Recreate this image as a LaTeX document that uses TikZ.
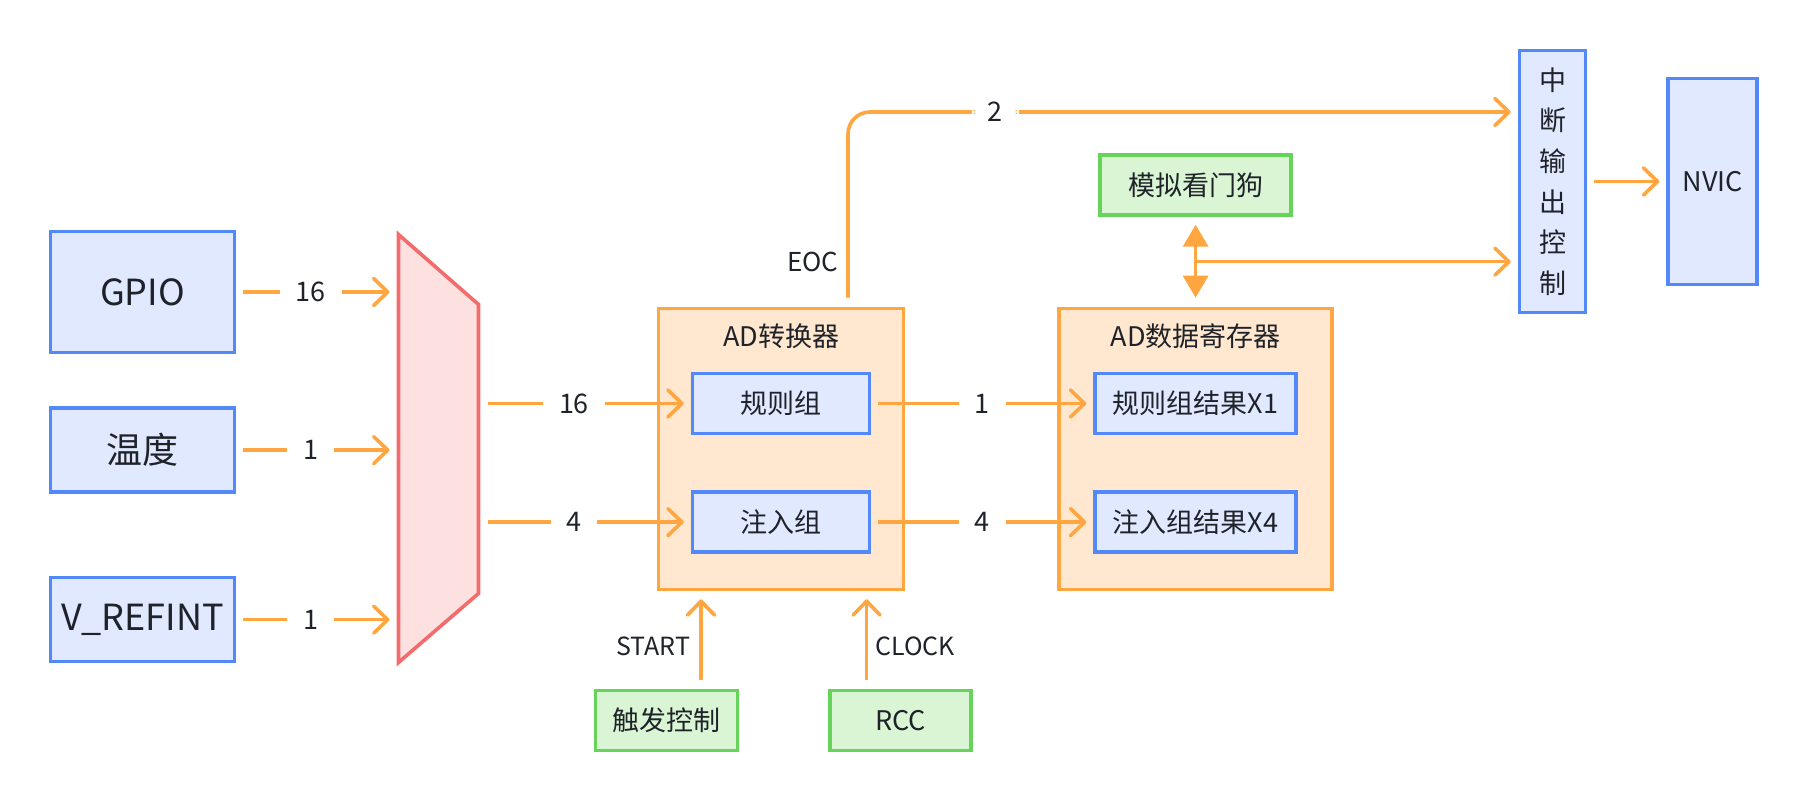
\documentclass[tikz,border=0pt]{standalone}
\usepackage{fontspec}
\setmainfont{Noto Sans CJK SC}
\usetikzlibrary{arrows.meta,positioning,calc}

\definecolor{blueline}{HTML}{5288F7}
\definecolor{bluefill}{HTML}{E0E9FF}
\definecolor{orgline}{HTML}{FFA640}
\definecolor{orgfill}{HTML}{FFE8CF}
\definecolor{grnline}{HTML}{66D35B}
\definecolor{grnfill}{HTML}{D9F5D4}
\definecolor{redline}{HTML}{F36C6C}
\definecolor{redfill}{HTML}{FDE1E1}
\definecolor{txt}{HTML}{1F2329}

\begin{document}
\begin{tikzpicture}[
  x=1pt,y=1pt,
  line width=3.6pt,
  >={Straight Barb[length=14pt,width=27pt,round]},
  every node/.style={text=txt},
  srcbox/.style={draw=blueline,fill=bluefill,minimum width=184pt,minimum height=84pt,font=\fontsize{36}{43}\selectfont},
  regbox/.style={draw=blueline,fill=bluefill,minimum height=60pt,font=\fontsize{27}{32}\selectfont},
  unitbox/.style={draw=orgline,fill=orgfill,minimum height=281pt},
  ctrlbox/.style={draw=grnline,fill=grnfill,minimum height=60pt,font=\fontsize{27}{32}\selectfont},
  muxbox/.style={inner sep=0pt,outer sep=0pt,minimum width=80pt,minimum height=428pt},
  title/.style={font=\fontsize{27}{32}\selectfont},
  num/.style={fill=white,inner xsep=16pt,inner ysep=2pt,font=\fontsize{27}{32}\selectfont},
  sig/.style={inner sep=0pt,font=\fontsize{25}{30}\selectfont},
  flow/.style={->,draw=orgline,shorten <=7pt,shorten >=7pt},
  dflow/.style={{Triangle[length=22pt,width=25pt]}-{Triangle[length=22pt,width=25pt]},draw=orgline,shorten <=8pt,shorten >=9pt}
]
\path[use as bounding box,fill=white] (0,0) rectangle (1808,802);

% ===== Inputs =====
\node[srcbox,minimum height=121pt] (gpio) at (142.5,510) {GPIO};
\node[srcbox,below=52pt of gpio] (wendu) {温度};
\node[srcbox,below=82pt of wendu] (vref) {V\_REFINT};

% ===== Multiplexer =====
\node[muxbox] (mux) at (438.5,353.5) {};
\draw[draw=redline,fill=redfill] (mux.north west) -- ([yshift=-70pt]mux.north east)
  -- ([yshift=69pt]mux.south east) -- (mux.south west) -- cycle;

% ===== AD Converter =====
\node[unitbox,minimum width=245pt] (adc) at (781,353) {};
\node[title] (adct) at ([yshift=-30pt]adc.north) {AD转换器};
\node[regbox,minimum width=177pt] (regular) at (781,398.5) {规则组};
\node[regbox,minimum width=177pt,below=55pt of regular] (inject) {注入组};

% ===== Data Register =====
\node[unitbox,minimum width=273pt,right=152pt of adc] (dreg) {};
\node[title] (dregt) at ([yshift=-30pt]dreg.north) {AD数据寄存器};
\node[regbox,minimum width=201pt] (regres) at (dreg |- regular) {规则组结果X1};
\node[regbox,minimum width=201pt] (injres) at (dreg |- inject) {注入组结果X4};

% ===== Control =====
\node[ctrlbox,minimum width=191pt,above=90pt of dreg] (wdog) {模拟看门狗};
\node[ctrlbox,minimum width=142pt] (trig) at (666.5,81.5) {触发控制};
\node[ctrlbox,minimum width=141pt,right=89pt of trig] (rcc) {RCC};

% ===== Interrupt =====
\node[regbox,minimum width=66pt,minimum height=262pt,align=center,font=\fontsize{27}{40.7}\selectfont] (intc) at (1552.5,620.5) {中\\断\\输\\出\\控\\制};
\node[regbox,minimum width=89pt,minimum height=206pt,right=79pt of intc] (nvic) {NVIC};

% ===== Channels =====
\draw[flow,shorten >=9pt] (gpio) -- node[num,pos=0.46]{16} (gpio -| mux.west);
\draw[flow,shorten >=9pt] (wendu) -- node[num,pos=0.46]{1} (wendu -| mux.west);
\draw[flow,shorten >=9pt] (vref) -- node[num,pos=0.46]{1} (vref -| mux.west);
\draw[flow,shorten <=9pt] (regular -| mux.east) -- node[num,pos=0.45]{16} (regular);
\draw[flow,shorten <=9pt] (inject -| mux.east) -- node[num,pos=0.45]{4} (inject);
\draw[flow] (regular) -- node[num]{1} (regres);
\draw[flow] (inject) -- node[num]{4} (injres);

% ===== Trigger / Clock =====
\draw[flow,shorten <=9pt,shorten >=8pt] ([xshift=34.5pt]trig.north) -- node[sig,pos=0.43,left=9pt]{START} ([xshift=34.5pt]trig.north |- adc.south);
\draw[flow,shorten <=9pt,shorten >=8pt] ([xshift=-34pt]rcc.north) -- node[sig,pos=0.43,right=7pt]{CLOCK} ([xshift=-34pt]rcc.north |- adc.south);

% ===== EOC / Watchdog =====
\draw[flow,rounded corners=22pt,shorten <=9pt] ([xshift=67pt]adc.north)
  |- node[sig,pos=0.115,left=8pt,font=\fontsize{26}{30}\selectfont]{EOC} node[num,pos=0.61]{2} ([yshift=69.5pt]intc.west);
\draw[dflow] (wdog) -- (dreg);
\coordinate (wdmid) at ($(wdog.south)!0.5!(dreg.north)$);
\draw[flow,shorten <=1.8pt] (wdmid) -- (wdmid -| intc.west);
\draw[flow] (intc) -- (nvic);

\end{tikzpicture}
\end{document}
